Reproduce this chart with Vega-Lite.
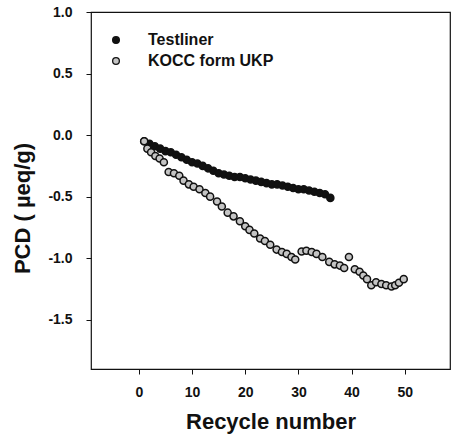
{
  "$schema": "https://vega.github.io/schema/vega-lite/v6.json",
  "width": 359,
  "height": 357,
  "autosize": {"type": "none"},
  "padding": {"left": 91, "top": 12, "right": 4, "bottom": 67},
  "background": "white",
  "config": {
    "view": {"stroke": "#111", "strokeWidth": 1.2},
    "font": "Liberation Sans",
    "axis": {
      "grid": false,
      "domain": false,
      "tickColor": "#111",
      "tickWidth": 1,
      "tickSize": 5,
      "labelColor": "#111",
      "titleColor": "#111",
      "labelFont": "Liberation Sans",
      "titleFont": "Liberation Sans",
      "labelFontSize": 14,
      "labelFontWeight": "bold",
      "titleFontSize": 22,
      "titleFontWeight": "bold"
    }
  },
  "data": {
    "values": [
      {"series": "Testliner", "cycle": 1, "pcd": -0.05},
      {"series": "Testliner", "cycle": 2, "pcd": -0.07},
      {"series": "Testliner", "cycle": 3, "pcd": -0.09},
      {"series": "Testliner", "cycle": 4, "pcd": -0.11},
      {"series": "Testliner", "cycle": 5, "pcd": -0.13},
      {"series": "Testliner", "cycle": 6, "pcd": -0.14},
      {"series": "Testliner", "cycle": 7, "pcd": -0.16},
      {"series": "Testliner", "cycle": 8, "pcd": -0.18},
      {"series": "Testliner", "cycle": 9, "pcd": -0.2},
      {"series": "Testliner", "cycle": 10, "pcd": -0.22},
      {"series": "Testliner", "cycle": 11, "pcd": -0.23},
      {"series": "Testliner", "cycle": 12, "pcd": -0.25},
      {"series": "Testliner", "cycle": 13, "pcd": -0.27},
      {"series": "Testliner", "cycle": 14, "pcd": -0.29},
      {"series": "Testliner", "cycle": 15, "pcd": -0.31},
      {"series": "Testliner", "cycle": 16, "pcd": -0.32},
      {"series": "Testliner", "cycle": 17, "pcd": -0.33},
      {"series": "Testliner", "cycle": 18, "pcd": -0.34},
      {"series": "Testliner", "cycle": 19, "pcd": -0.34},
      {"series": "Testliner", "cycle": 20, "pcd": -0.35},
      {"series": "Testliner", "cycle": 21, "pcd": -0.36},
      {"series": "Testliner", "cycle": 22, "pcd": -0.37},
      {"series": "Testliner", "cycle": 23, "pcd": -0.38},
      {"series": "Testliner", "cycle": 24, "pcd": -0.39},
      {"series": "Testliner", "cycle": 25, "pcd": -0.4},
      {"series": "Testliner", "cycle": 26, "pcd": -0.4},
      {"series": "Testliner", "cycle": 27, "pcd": -0.41},
      {"series": "Testliner", "cycle": 28, "pcd": -0.42},
      {"series": "Testliner", "cycle": 29, "pcd": -0.43},
      {"series": "Testliner", "cycle": 30, "pcd": -0.44},
      {"series": "Testliner", "cycle": 31, "pcd": -0.44},
      {"series": "Testliner", "cycle": 32, "pcd": -0.45},
      {"series": "Testliner", "cycle": 33, "pcd": -0.46},
      {"series": "Testliner", "cycle": 34, "pcd": -0.47},
      {"series": "Testliner", "cycle": 35, "pcd": -0.48},
      {"series": "Testliner", "cycle": 36, "pcd": -0.51},
      {"series": "KOCC form UKP", "cycle": 1, "pcd": -0.05},
      {"series": "KOCC form UKP", "cycle": 1.6, "pcd": -0.11},
      {"series": "KOCC form UKP", "cycle": 2.3, "pcd": -0.14},
      {"series": "KOCC form UKP", "cycle": 3.1, "pcd": -0.17},
      {"series": "KOCC form UKP", "cycle": 3.9, "pcd": -0.19},
      {"series": "KOCC form UKP", "cycle": 4.7, "pcd": -0.22},
      {"series": "KOCC form UKP", "cycle": 5.6, "pcd": -0.3},
      {"series": "KOCC form UKP", "cycle": 6.6, "pcd": -0.31},
      {"series": "KOCC form UKP", "cycle": 7.6, "pcd": -0.33},
      {"series": "KOCC form UKP", "cycle": 8.4, "pcd": -0.37},
      {"series": "KOCC form UKP", "cycle": 9.4, "pcd": -0.4},
      {"series": "KOCC form UKP", "cycle": 10.3, "pcd": -0.42},
      {"series": "KOCC form UKP", "cycle": 11.4, "pcd": -0.44},
      {"series": "KOCC form UKP", "cycle": 12.5, "pcd": -0.47},
      {"series": "KOCC form UKP", "cycle": 13.4, "pcd": -0.5},
      {"series": "KOCC form UKP", "cycle": 14.7, "pcd": -0.54},
      {"series": "KOCC form UKP", "cycle": 15.6, "pcd": -0.58},
      {"series": "KOCC form UKP", "cycle": 16.7, "pcd": -0.63},
      {"series": "KOCC form UKP", "cycle": 17.8, "pcd": -0.66},
      {"series": "KOCC form UKP", "cycle": 19.0, "pcd": -0.7},
      {"series": "KOCC form UKP", "cycle": 20.0, "pcd": -0.74},
      {"series": "KOCC form UKP", "cycle": 20.8, "pcd": -0.77},
      {"series": "KOCC form UKP", "cycle": 21.7, "pcd": -0.8},
      {"series": "KOCC form UKP", "cycle": 22.8, "pcd": -0.84},
      {"series": "KOCC form UKP", "cycle": 23.7, "pcd": -0.86},
      {"series": "KOCC form UKP", "cycle": 24.7, "pcd": -0.89},
      {"series": "KOCC form UKP", "cycle": 25.9, "pcd": -0.93},
      {"series": "KOCC form UKP", "cycle": 26.9, "pcd": -0.95},
      {"series": "KOCC form UKP", "cycle": 27.8, "pcd": -0.965},
      {"series": "KOCC form UKP", "cycle": 28.7, "pcd": -0.99},
      {"series": "KOCC form UKP", "cycle": 29.4, "pcd": -1.01},
      {"series": "KOCC form UKP", "cycle": 30.6, "pcd": -0.945},
      {"series": "KOCC form UKP", "cycle": 31.5, "pcd": -0.94},
      {"series": "KOCC form UKP", "cycle": 32.5, "pcd": -0.95},
      {"series": "KOCC form UKP", "cycle": 33.4, "pcd": -0.965},
      {"series": "KOCC form UKP", "cycle": 34.5, "pcd": -0.99},
      {"series": "KOCC form UKP", "cycle": 35.8, "pcd": -1.03},
      {"series": "KOCC form UKP", "cycle": 36.8, "pcd": -1.05},
      {"series": "KOCC form UKP", "cycle": 37.8, "pcd": -1.06},
      {"series": "KOCC form UKP", "cycle": 38.6, "pcd": -1.08},
      {"series": "KOCC form UKP", "cycle": 39.5, "pcd": -0.99},
      {"series": "KOCC form UKP", "cycle": 40.6, "pcd": -1.09},
      {"series": "KOCC form UKP", "cycle": 41.5, "pcd": -1.11},
      {"series": "KOCC form UKP", "cycle": 42.2, "pcd": -1.14},
      {"series": "KOCC form UKP", "cycle": 42.9, "pcd": -1.17},
      {"series": "KOCC form UKP", "cycle": 43.7, "pcd": -1.22},
      {"series": "KOCC form UKP", "cycle": 44.6, "pcd": -1.195},
      {"series": "KOCC form UKP", "cycle": 45.6, "pcd": -1.21},
      {"series": "KOCC form UKP", "cycle": 46.5, "pcd": -1.22},
      {"series": "KOCC form UKP", "cycle": 47.5, "pcd": -1.23},
      {"series": "KOCC form UKP", "cycle": 48.2, "pcd": -1.22},
      {"series": "KOCC form UKP", "cycle": 48.9, "pcd": -1.2},
      {"series": "KOCC form UKP", "cycle": 49.8, "pcd": -1.17}
    ]
  },
  "mark": {"type": "point", "shape": "circle", "filled": true, "stroke": "#111", "strokeWidth": 1.5, "size": 50, "opacity": 1},
  "encoding": {
    "x": {
      "field": "cycle",
      "type": "quantitative",
      "scale": {"domain": [-9, 58.5], "nice": false, "zero": false},
      "axis": {
        "values": [0, 10, 20, 30, 40, 50],
        "title": "Recycle number",
        "labelPadding": 11,
        "titleY": 59.5,
        "titleBaseline": "alphabetic"
      }
    },
    "y": {
      "field": "pcd",
      "type": "quantitative",
      "scale": {"domain": [-1.9, 1.0], "nice": false, "zero": false},
      "axis": {
        "values": [-1.5, -1.0, -0.5, 0, 0.5, 1.0],
        "labelExpr": "datum.value < 0 ? '-' + format(-datum.value, '.1f') : format(datum.value, '.1f')",
        "title": "PCD ( µeq/g)",
        "labelPadding": 14,
        "titleX": -62,
        "titleY": 196,
        "titleAngle": -90,
        "titleAlign": "center",
        "titleBaseline": "alphabetic"
      }
    },
    "fill": {
      "field": "series",
      "type": "nominal",
      "scale": {"domain": ["Testliner", "KOCC form UKP"], "range": ["#111111", "#c4c4c4"]},
      "legend": {
        "title": null,
        "orient": "none",
        "legendX": 17,
        "legendY": 20,
        "padding": 0,
        "symbolType": "circle",
        "symbolSize": 45,
        "symbolStrokeColor": "#111",
        "symbolStrokeWidth": 1.3,
        "labelFont": "Liberation Sans",
        "labelFontSize": 16,
        "labelFontWeight": "bold",
        "labelColor": "#111",
        "labelOffset": 24,
        "rowPadding": 5
      }
    }
  }
}
